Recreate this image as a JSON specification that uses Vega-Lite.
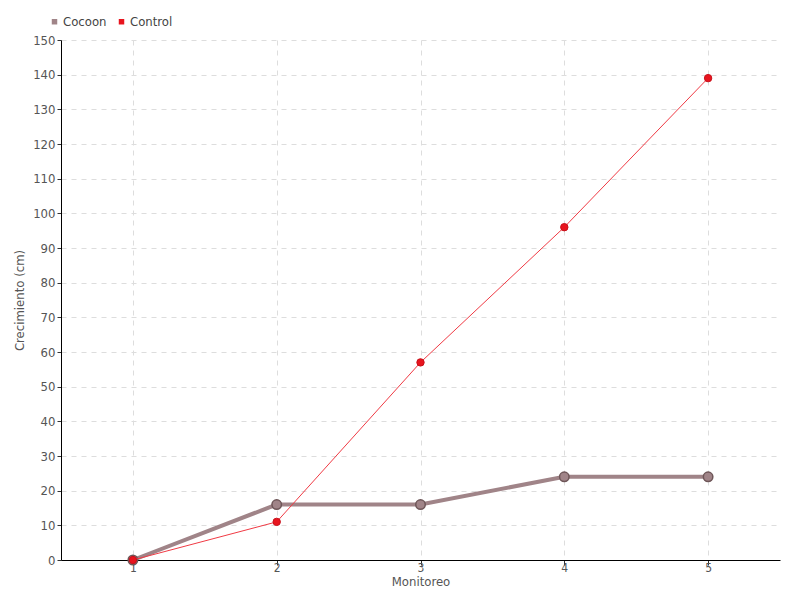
{
  "$schema": "https://vega.github.io/schema/vega-lite/v6.json",
  "autosize": {"type": "none"},
  "padding": {"left": 61, "top": 40, "right": 20, "bottom": 40},
  "width": 719,
  "height": 520,
  "background": "white",
  "config": {
    "font": "DejaVu Sans Condensed, Roboto, sans-serif",
    "view": {"stroke": null},
    "axis": {"labelColor": "#555", "titleColor": "#555", "labelFontSize": 13, "titleFontSize": 13, "titleFontWeight": "normal", "domainColor": "#000", "tickColor": "#333", "gridColor": "#ddd", "gridDash": [5, 5]}
  },
  "data": {
    "values": [
      {"m": 1, "serie": "Cocoon", "v": 0},
      {"m": 2, "serie": "Cocoon", "v": 16},
      {"m": 3, "serie": "Cocoon", "v": 16},
      {"m": 4, "serie": "Cocoon", "v": 24},
      {"m": 5, "serie": "Cocoon", "v": 24},
      {"m": 1, "serie": "Control", "v": 0},
      {"m": 2, "serie": "Control", "v": 11},
      {"m": 3, "serie": "Control", "v": 57},
      {"m": 4, "serie": "Control", "v": 96},
      {"m": 5, "serie": "Control", "v": 139}
    ]
  },
  "encoding": {
    "x": {"field": "m", "type": "ordinal", "scale": {"type": "point", "padding": 0.5}, "title": "Monitoreo",
      "axis": {"labelAngle": 0, "grid": true, "tickSize": 5, "titlePadding": 2, "labelPadding": -3, "labelFontSize": 12}},
    "y": {"field": "v", "type": "quantitative", "scale": {"domain": [0, 150], "nice": false}, "title": "Crecimiento (cm)",
      "axis": {"values": [0,10,20,30,40,50,60,70,80,90,100,110,120,130,140,150], "tickSize": 4, "titlePadding": 6, "labelPadding": 2}},
    "color": {"field": "serie", "type": "nominal", "scale": {"domain": ["Cocoon", "Control"], "range": ["#a08488", "#e8141e"]},
      "legend": {"title": null, "orient": "none", "legendX": -13, "legendY": -25, "direction": "horizontal", "symbolType": "square", "symbolSize": 30, "symbolStrokeWidth": 0, "labelFontSize": 13, "labelColor": "#444", "columnPadding": 8, "labelOffset": 2, "symbolOpacity": 1}}
  },
  "layer": [
    {
      "transform": [{"filter": "datum.serie == 'Cocoon'"}],
      "mark": {"type": "line", "strokeWidth": 4}
    },
    {
      "transform": [{"filter": "datum.serie == 'Cocoon'"}],
      "mark": {"type": "point", "filled": true, "opacity": 1, "strokeWidth": 1.5, "stroke": "#6e5658", "size": 90}
    },
    {
      "transform": [{"filter": "datum.serie == 'Control'"}],
      "mark": {"type": "line", "strokeWidth": 1, "stroke": "#f03a44"}
    },
    {
      "transform": [{"filter": "datum.serie == 'Control'"}],
      "mark": {"type": "point", "filled": true, "opacity": 1, "strokeWidth": 1, "stroke": "#c8101a", "size": 55}
    }
  ]
}
